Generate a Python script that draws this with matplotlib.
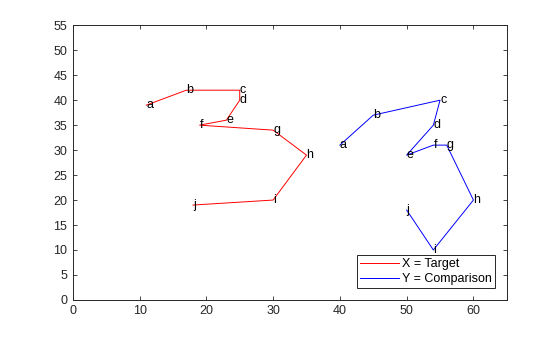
import matplotlib
matplotlib.use("Agg")
import matplotlib.pyplot as plt

plt.rcParams["font.family"] = ["Liberation Sans", "DejaVu Sans"]
plt.rcParams["font.size"] = 9

labels = ["a", "b", "c", "d", "e", "f", "g", "h", "i", "j"]

# target shape (red)
x_target = [11, 17, 25, 25, 23, 19, 30, 35, 30, 18]
y_target = [39, 42, 42, 40, 36, 35, 34, 29, 20, 19]

# comparison shape (blue)
x_comp = [40, 45, 55, 54, 50, 54, 56, 60, 54, 50]
y_comp = [31, 37, 40, 35, 29, 31, 31, 20, 10, 18]

AX_COLOR = "#262626"

fig = plt.figure(figsize=(5.6, 3.37), dpi=100)
ax = fig.add_axes([0.13, 0.11, 0.775, 0.815])

ax.plot(x_target, y_target, color="red", lw=0.7, label="X = Target")
ax.plot(x_comp, y_comp, color="blue", lw=0.7, label="Y = Comparison")

for xs, ys in ((x_target, y_target), (x_comp, y_comp)):
    for lab, x, y in zip(labels, xs, ys):
        ax.text(x, y, lab, ha="left", va="center", fontsize=9, color="black")

ax.set_xlim(0, 65)
ax.set_ylim(0, 55)
ax.set_xticks(range(0, 61, 10))
ax.set_yticks(range(0, 56, 5))
ax.tick_params(direction="in", top=True, right=True, length=3, width=0.6,
               colors=AX_COLOR, labelsize=9, pad=4)
for sp in ax.spines.values():
    sp.set_linewidth(0.7)
    sp.set_color(AX_COLOR)

leg = ax.legend(loc="lower right", bbox_to_anchor=(0.972, 0.0425),
                borderaxespad=0, fancybox=False, framealpha=1,
                handlelength=3.1, handletextpad=0.25, borderpad=0.25,
                labelspacing=0.25, fontsize=9)
leg.get_frame().set_edgecolor(AX_COLOR)
leg.get_frame().set_linewidth(0.7)

fig.savefig("out.png", dpi=100)
